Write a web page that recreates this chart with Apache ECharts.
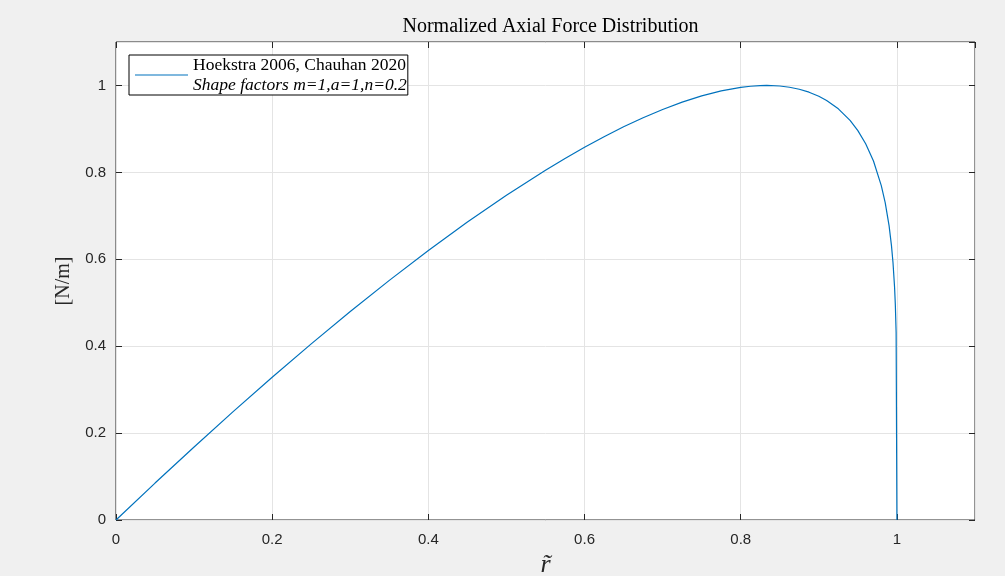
<!DOCTYPE html>
<html>
<head>
<meta charset="utf-8">
<script src="https://cdn.jsdelivr.net/npm/echarts@6/dist/echarts.min.js"></script>
<style>
html,body{margin:0;padding:0;background:#f0f0f0;}
#c{width:1005px;height:576px;}
</style>
</head>
<body>
<div id="c"></div>
<script>
var rValues = [0, 0.05, 0.1, 0.15, 0.2, 0.25, 0.3, 0.35, 0.4, 0.45, 0.5, 0.55, 0.575, 0.6, 0.625, 0.65, 0.675, 0.7, 0.725, 0.75, 0.775, 0.8, 0.8125, 0.825, 0.8333, 0.85, 0.8625, 0.875, 0.8875, 0.9, 0.91, 0.925, 0.94, 0.95, 0.96, 0.97, 0.98, 0.985, 0.99, 0.993, 0.995, 0.997, 0.998, 0.999, 1];
var forceValues = [0, 0.0850, 0.1681, 0.2493, 0.3284, 0.4053, 0.4797, 0.5514, 0.6202, 0.6856, 0.7474, 0.8050, 0.8321, 0.8578, 0.8821, 0.9048, 0.9257, 0.9448, 0.9616, 0.9760, 0.9875, 0.9957, 0.9982, 0.9997, 1.0, 0.9987, 0.9959, 0.9913, 0.9845, 0.9751, 0.9654, 0.9462, 0.9196, 0.8961, 0.8660, 0.8261, 0.7696, 0.7303, 0.6768, 0.6321, 0.5921, 0.5357, 0.4945, 0.4309, 0];
var xTicks = [0, 0.2, 0.4, 0.6, 0.8, 1];
var yTicks = [0, 0.2, 0.4, 0.6, 0.8, 1];
var seriesName = 'Hoekstra 2006, Chauhan 2020';
var seriesSub = 'Shape factors m=1,a=1,n=0.2';
var titleText = 'Normalized Axial Force Distribution';
var yName = '[N/m]';
var xName = 'r\u0303';

var data = rValues.map(function (r, i) { return [r, forceValues[i]]; });
var serif = 'Liberation Serif';
var sans = 'Liberation Sans';
var axisCol = '#262626';

function baseAxis(pos, showLabel) {
  return {
    type: 'value', position: pos, min: 0, max: 1.1, interval: 0.2,
    axisLine: { show: false, onZero: false },
    axisTick: { show: true, inside: true, length: 6, lineStyle: { color: axisCol, width: 1 } },
    splitLine: { show: showLabel, lineStyle: { color: '#e4e4e4', width: 1 } },
    axisLabel: {
      show: showLabel, showMaxLabel: false, color: axisCol, fontFamily: sans, fontSize: 15,
      margin: 10,
      formatter: function (v) { return String(Math.round(v * 10) / 10); }
    }
  };
}

var xBottom = baseAxis('bottom', true);
xBottom.axisLabel.margin = 12;
xBottom.name = xName;
xBottom.nameLocation = 'middle';
xBottom.nameGap = 30;
xBottom.nameTextStyle = { fontFamily: serif, fontStyle: 'italic', fontSize: 26, color: axisCol };
var xTop = baseAxis('top', false);
var yLeft = baseAxis('left', true);
yLeft.name = yName;
yLeft.nameLocation = 'middle';
yLeft.nameGap = 40;
yLeft.nameTextStyle = { fontFamily: serif, fontSize: 20, color: axisCol };
var yRight = baseAxis('right', false);

var chart = echarts.init(document.getElementById('c'));
chart.setOption({
  backgroundColor: '#f0f0f0',
  animation: false,
  title: {
    text: titleText, left: 545.5, textAlign: 'center', top: 12,
    textStyle: { fontFamily: serif, fontSize: 20, fontWeight: 'normal', color: '#000' }
  },
  grid: {
    left: 116, top: 42, right: 30, bottom: 56, show: true,
    outerBoundsMode: 'none', containLabel: false,
    backgroundColor: '#ffffff', borderColor: '#262626', borderWidth: 1
  },
  legend: {
    left: 129, top: 55, orient: 'vertical',
    backgroundColor: '#fff', borderColor: '#000', borderWidth: 1,
    padding: [1, 1, 1, 6], itemGap: 0,
    icon: 'rect', itemWidth: 53, itemHeight: 1.2,
    data: [seriesName],
    formatter: function (n) { return '{a|' + n + '}\n{b|' + seriesSub + '}'; },
    textStyle: {
      rich: {
        a: { fontFamily: serif, fontSize: 17.5, color: '#000', lineHeight: 20 },
        b: { fontFamily: serif, fontSize: 17.5, fontStyle: 'italic', color: '#000', lineHeight: 20 }
      }
    }
  },
  xAxis: [xBottom, xTop],
  yAxis: [yLeft, yRight],
  series: [{
    name: seriesName, type: 'line', data: data, showSymbol: false, symbol: 'none',
    lineStyle: { color: '#0072BD', width: 1.2 }, itemStyle: { color: '#0072BD' },
    xAxisIndex: 0, yAxisIndex: 0
  }]
});
</script>
</body>
</html>
